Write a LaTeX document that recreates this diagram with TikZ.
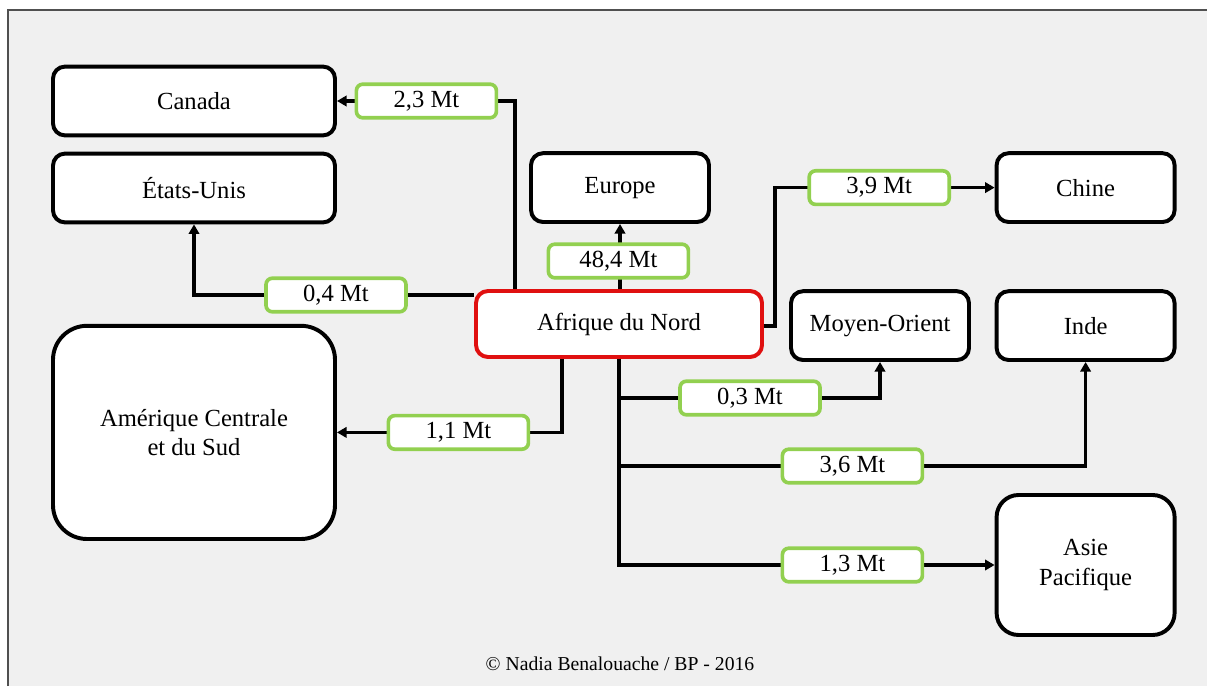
\documentclass[tikz,border=0pt]{standalone}
\usepackage{fontspec}
\setmainfont{Liberation Serif}
\usepackage{xcolor}
\usepackage{tikz}
\usetikzlibrary{arrows.meta,calc}
\definecolor{frame}{HTML}{505050}
\definecolor{paper}{HTML}{F0F0F0}
\definecolor{qtygreen}{HTML}{92D050}
\definecolor{srcred}{HTML}{E01010}
\tikzset{
  region/.style  = {rectangle, rounded corners=3mm, draw=black, line width=2.8pt,
                    fill=white, minimum width=7.05cm, minimum height=1.72cm,
                    align=center, font=\fontsize{17.5}{21}\selectfont},
  small/.style   = {region, minimum width=4.45cm},
  source/.style  = {region, draw=srcred, minimum width=7.15cm, minimum height=1.65cm},
  qty/.style     = {rectangle, rounded corners=1.6mm, draw=qtygreen, line width=2.6pt,
                    fill=white, minimum width=3.5cm, minimum height=0.84cm,
                    inner sep=0pt, font=\fontsize{17.5}{21}\selectfont},
  arr/.style     = {-{Triangle[length=2.4mm,width=2.6mm]}, line width=2.6pt},
}

\begin{document}
\begin{tikzpicture}
  % background and frame
  \useasboundingbox (0,0) rectangle (30.175,-17.15);
  \fill[white] (0,0) rectangle (30.175,-17.15);
  \fill[paper] (0.2,-0.25) rectangle (30.175,-17.15);
  \draw[frame, line width=1.6pt] (0.2,-17.15) -- (0.2,-0.25) -- (30.175,-0.25);

  \node[region] (canada) at (4.85,-2.525) {Canada};
  \node[region] (etats) at (4.85,-4.7) {États-Unis};
  \node[region, minimum height=5.33cm, rounded corners=8.5mm] (amerique) at (4.85,-10.81)
       {Amérique Centrale\\et du Sud};
  \node[small] (europe) at (15.5,-4.69) {Europe};
  \node[source] (afr) at (15.475,-8.1) {Afrique du Nord};
  \node[small] (chine) at (27.14,-4.69) {Chine};
  \node[small] (moyen) at (22,-8.14) {Moyen-Orient};
  \node[small] (inde) at (27.14,-8.14) {Inde};
  \node[small, minimum height=3.5cm, rounded corners=5.5mm] (asie) at (27.14,-14.125)
       {Asie\\Pacifique};

  % bends
  \coordinate (kCa) at (12.875,-2.525);
  \coordinate (kEu) at (4.85,-7.375);
  \coordinate (kCh) at (19.375,-8.15);
  \coordinate (kAm) at (14.05,-10.81);
  \coordinate (kMo) at (15.475,-9.95);
  \coordinate (kIn) at (15.475,-11.65);

  \draw[arr] (afr.north -| kCa) |- (canada);
  \draw[arr] (afr.west |- kEu) -| (etats);
  \draw[arr] (afr.north -| europe.south) -- (europe.south);
  \draw[arr] (afr.east |- kCh) -- (kCh) |- (chine);
  \draw[arr] (afr.south -| kAm) |- (amerique);
  \draw[arr] (afr.south) |- (asie);
  \draw[arr] (kMo) -| (moyen);
  \draw[arr] (kIn) -| (inde);

  \node[qty] (q1) at (10.66,-2.525) {2,3 Mt};
  \node[qty] (q2) at (8.4,-7.375) {0,4 Mt};
  \node[qty] (q3) at (15.46,-6.525) {48,4 Mt};
  \node[qty] (q4) at (21.98,-4.69) {3,9 Mt};
  \node[qty] (q5) at (18.75,-9.95) {0,3 Mt};
  \node[qty] (q6) at (21.31,-11.65) {3,6 Mt};
  \node[qty] (q7) at (21.31,-14.125) {1,3 Mt};
  \node[qty] (q8) at (11.46,-10.81) {1,1 Mt};

  \node[font=\fontsize{14}{17}\selectfont] (credit) at (15.5,-16.6) {© Nadia Benalouache / BP - 2016};
\end{tikzpicture}
\end{document}
